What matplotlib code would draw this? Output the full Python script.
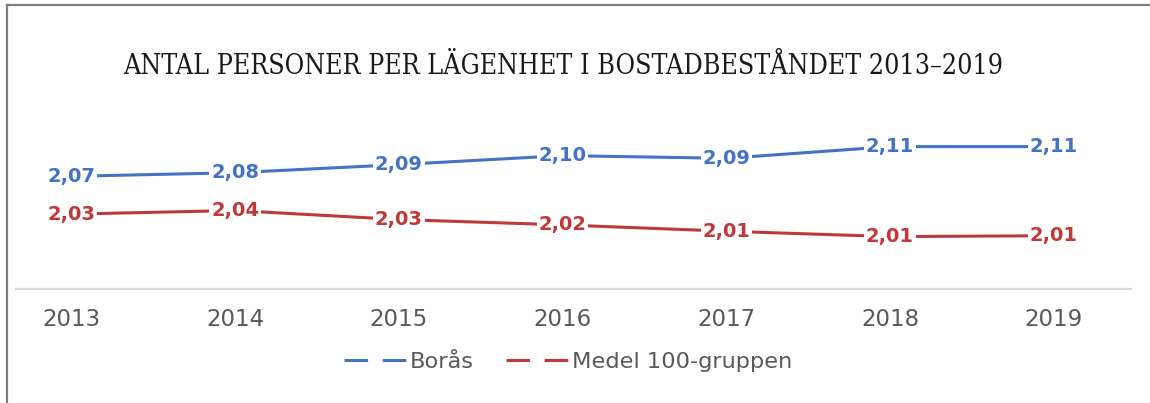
import matplotlib
matplotlib.use('Agg')
import matplotlib.pyplot as plt
from matplotlib.lines import Line2D
from matplotlib import font_manager
from matplotlib.font_manager import FontProperties

# ---- data ----
years = ['2013', '2014', '2015', '2016', '2017', '2018', '2019']
boras = [2.074, 2.078, 2.087, 2.097, 2.094, 2.107, 2.107]
medel = [2.032, 2.036, 2.026, 2.020, 2.013, 2.007, 2.008]
series_names = ['Borås', 'Medel 100-gruppen']
title = 'ANTAL PERSONER PER LÄGENHET I BOSTADBESTÅNDET 2013–2019'

BLUE = '#4472C4'
RED = '#C0393A'
GRAY = '#595959'

plt.rcParams['lines.scale_dashes'] = False

W, H = 1150, 403
fig = plt.figure(figsize=(W / 100, H / 100), dpi=100)
fig.patch.set_facecolor('white')


def fx(px):
    return px / W


def fy(py):
    return 1 - py / H


ax = fig.add_axes([fx(16), fy(289), fx(1131 - 16), (289 - 100) / H])
x = list(range(len(years)))
for vals, col in ((boras, BLUE), (medel, RED)):
    ax.plot(x, vals, color=col, lw=2.2, solid_capstyle='butt', zorder=2)
    for xi, v in zip(x, vals):
        ax.annotate(f"{v:.2f}".replace('.', ','), (xi, v),
                    xytext=(0, 1.5), textcoords='offset points',
                    ha='center', va='center_baseline', fontsize=14,
                    fontweight='bold', color=col, family='DejaVu Sans',
                    zorder=3,
                    bbox=dict(facecolor='white', edgecolor='none', pad=1.2))

ax.set_xlim((16 - 71.5) / 163.7, (1131 - 71.5) / 163.7)
ax.set_ylim(2.2699 - 289 / 900, 2.2699 - 100 / 900)
ax.set_xticks(x, years)
ax.set_yticks([])
ax.tick_params(axis='x', length=0, pad=14, labelsize=16.5, labelcolor=GRAY)
for s in ('top', 'left', 'right'):
    ax.spines[s].set_visible(False)
ax.spines['bottom'].set_color('#D9D9D9')
ax.spines['bottom'].set_linewidth(1.6)
ax.patch.set_alpha(0)

# legend
handles = [Line2D([], [], color=c, lw=2.2, dashes=(17.0, 10.5))
           for c in (BLUE, RED)]
fs_leg = 16.2
leg = fig.legend(handles, series_names, loc='center',
                 bbox_to_anchor=(fx(568), fy(362)),
                 bbox_transform=fig.transFigure, ncol=2, frameon=False,
                 fontsize=fs_leg, handlelength=44.6 / fs_leg,
                 handletextpad=0.15, columnspacing=1.45, borderpad=0)
for t in leg.get_texts():
    t.set_color(GRAY)

# frame lines (left and top)
fig.add_artist(Line2D([fx(7), fx(7)], [0, fy(5)], color='#7F7F7F', lw=1.6))
fig.add_artist(Line2D([fx(7), 1], [fy(5), fy(5)], color='#7F7F7F', lw=1.6))

# title font: prefer an upright condensed serif
title_fp = None
for f in font_manager.fontManager.ttflist:
    if ('Serif' in f.name and 'Mono' not in f.name
            and str(f.stretch) in ('condensed', 'semi-condensed')
            and f.style == 'normal'
            and f.weight in ('normal', 400, 'regular', 'book')):
        title_fp = FontProperties(fname=f.fname)
        break
if title_fp is None:
    title_fp = FontProperties(family='Liberation Serif')
title_fp.set_size(24)
tt = fig.text(fx(563), fy(63), title, ha='center', va='center_baseline',
              fontproperties=title_fp, color='#1a1a1a')
renderer = fig.canvas.get_renderer()
wpx = tt.get_window_extent(renderer).width
target = 878
size = 24 * target / wpx
size = min(size, 24.5)
title_fp.set_size(size)
tt.set_fontproperties(title_fp)

fig.savefig('out.png', dpi=100, facecolor='white')
